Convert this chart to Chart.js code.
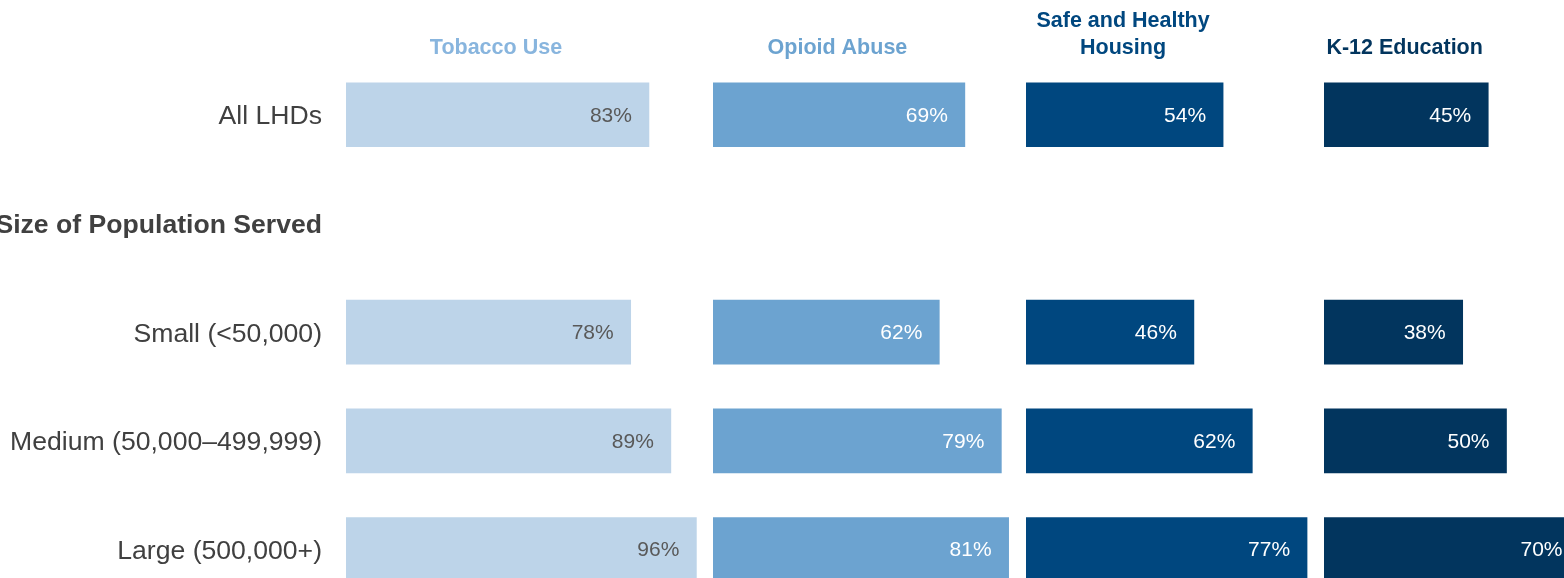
<!DOCTYPE html>
<html>
<head>
<meta charset="utf-8">
<title>LHD activities by topic</title>
<script src="https://cdn.jsdelivr.net/npm/chart.js@4/dist/chart.umd.min.js"></script>
<style>
    body {
        margin: 0;
        width: 1564px;
        height: 578px;
        overflow: hidden;
        position: relative;
        background: #ffffff;
    }
    canvas {
        position: absolute;
        top: 0;
    }
</style>
</head>
<body>
<canvas id="tobaccoChart"></canvas>
<canvas id="opioidChart"></canvas>
<canvas id="housingChart"></canvas>
<canvas id="educationChart"></canvas>

<script>
const categories = ['All LHDs', 'Size of Population Served', 'Small (<50,000)', 'Medium (50,000–499,999)', 'Large (500,000+)'];
const topics = [['Tobacco Use'], ['Opioid Abuse'], ['Safe and Healthy', 'Housing'], ['K-12 Education']];

// percent of LHDs, the section header row has no bar
const tobaccoValues = [83, null, 78, 89, 96];
const opioidValues = [69, null, 62, 79, 81];
const housingValues = [54, null, 46, 62, 77];
const educationValues = [45, null, 38, 50, 70];

const FONT = "'Liberation Sans', Arial, sans-serif";
const AXIS_WIDTH = 346;     // room for the row labels on the first panel
const PANEL_WIDTH = 365;    // 0..100% in every panel
const CANVAS_HEIGHT = 604;

const panels = [
    { id: 'tobaccoChart', left: 346, values: tobaccoValues, bar: '#bdd4e9', title: '#88b5de', text: '#595959' },
    { id: 'opioidChart', left: 713, values: opioidValues, bar: '#6ca3d0', title: '#6ca3d0', text: '#ffffff' },
    { id: 'housingChart', left: 1026, values: housingValues, bar: '#00477f', title: '#00477f', text: '#ffffff' },
    { id: 'educationChart', left: 1324, values: educationValues, bar: '#02355e', title: '#02355e', text: '#ffffff' }
];

// topic name centred over the "All LHDs" bar
const topicTitle = {
    id: 'topicTitle',
    afterDatasetsDraw(chart, args, opts) {
        const bar = chart.getDatasetMeta(0).data[0];
        const cx = (bar.x + bar.base) / 2 - 1.5;
        const ctx = chart.ctx;
        ctx.save();
        ctx.font = `bold 21.5px ${FONT}`;
        ctx.fillStyle = opts.color;
        ctx.textAlign = 'center';
        ctx.textBaseline = 'middle';
        const lines = opts.lines;
        lines.forEach((line, i) => {
            ctx.fillText(line, cx, 48 - (lines.length - 1 - i) * 26.5);
        });
        ctx.restore();
    }
};

// percent label inside the end of each bar
const valueLabels = {
    id: 'valueLabels',
    afterDatasetsDraw(chart, args, opts) {
        const ctx = chart.ctx;
        const values = chart.data.datasets[0].data;
        ctx.save();
        ctx.font = `21px ${FONT}`;
        ctx.fillStyle = opts.color;
        ctx.textAlign = 'right';
        ctx.textBaseline = 'middle';
        chart.getDatasetMeta(0).data.forEach((bar, i) => {
            if (values[i] == null) return;
            ctx.fillText(values[i] + '%', bar.x - 17, bar.y + 1);
        });
        ctx.restore();
    }
};

panels.forEach((panel, index) => {
    const canvas = document.getElementById(panel.id);
    const withAxis = index === 0;
    canvas.width = withAxis ? AXIS_WIDTH + PANEL_WIDTH : PANEL_WIDTH;
    canvas.height = CANVAS_HEIGHT;
    canvas.style.left = (withAxis ? panel.left - AXIS_WIDTH : panel.left) + 'px';

    new Chart(canvas.getContext('2d'), {
        type: 'bar',
        data: {
            labels: categories,
            datasets: [{
                data: panel.values,
                backgroundColor: panel.bar,
                borderWidth: 0,
                barThickness: 64
            }]
        },
        options: {
            indexAxis: 'y',
            responsive: false,
            animation: false,
            layout: {
                padding: { top: 60.4, right: 0, bottom: 0, left: 0 }
            },
            scales: {
                x: {
                    display: false,
                    min: 0,
                    max: 100
                },
                y: {
                    display: withAxis,
                    grid: { display: false, drawTicks: false },
                    border: { display: false },
                    ticks: {
                        autoSkip: false,
                        padding: 24,
                        labelOffset: 2,
                        color: '#404040',
                        font: ctx => ({
                            family: FONT,
                            size: 26.6,
                            weight: ctx.index === 1 ? 'bold' : 'normal'
                        })
                    },
                    afterFit(scale) {
                        if (!withAxis) return;
                        // fixed label column, no extra room for the first/last label
                        scale.width = AXIS_WIDTH;
                        scale.paddingTop = 0;
                        scale.paddingBottom = 0;
                    }
                }
            },
            plugins: {
                legend: { display: false },
                tooltip: { enabled: false },
                topicTitle: { lines: topics[index], color: panel.title },
                valueLabels: { color: panel.text }
            }
        },
        plugins: [topicTitle, valueLabels]
    });
});
</script>
</body>
</html>
